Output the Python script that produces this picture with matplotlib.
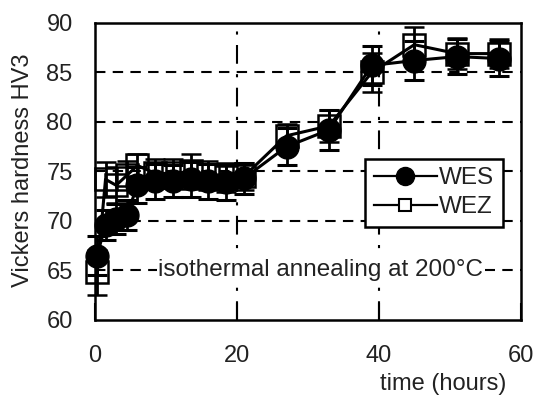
import matplotlib
matplotlib.use("Agg")
import matplotlib.pyplot as plt
from matplotlib.lines import Line2D

plt.rcParams["font.family"] = ["Liberation Sans", "DejaVu Sans"]

# data
time_h = [0.3, 1.5, 3, 4.5, 6, 8.5, 11, 13.5, 16, 18.5, 21, 27, 33, 39, 45, 51, 57]
wes = [66.5, 69.6, 70.2, 70.6, 73.6, 74.0, 74.0, 74.2, 74.0, 73.9, 74.3,
       77.5, 79.2, 85.7, 86.2, 86.6, 86.4]
wes_err = [2.0, 1.5, 1.5, 1.5, 1.8, 1.8, 1.6, 1.8, 1.8, 1.8, 1.6,
           1.9, 2.0, 2.0, 2.0, 1.8, 1.8]
wez = [64.8, 74.2, 73.6, 74.6, 75.6, 74.8, 74.8, 75.0, 74.6, 74.4, 74.5,
       78.6, 79.6, 85.0, 87.8, 86.9, 86.9]
wez_err = [2.3, 1.8, 1.8, 1.5, 1.2, 1.5, 1.5, 1.8, 1.5, 1.5, 1.4,
           1.2, 1.6, 2.0, 1.8, 1.6, 1.5]

xticks = [0, 20, 40, 60]
yticks = [60, 65, 70, 75, 80, 85, 90]
annotation = "isothermal annealing at 200°C"

fig = plt.figure(figsize=(5.33, 3.95), dpi=100)
ax = fig.add_axes([0.178, 0.19, 0.799, 0.752])

# grid: dashed horizontal, dash-dot vertical
for y in yticks[1:-1]:
    ax.axhline(y, color="black", lw=1.5, ls=(0, (5, 3.5)), zorder=1)
for x in xticks[1:-1]:
    ax.axvline(x, color="black", lw=1.5, ls=(0, (9, 5, 1.5, 5)), zorder=1)

ax.text(31.8, 65, annotation, fontsize=17.5, color="#222222", ha="center", va="center",
        bbox=dict(facecolor="white", edgecolor="none", pad=1), zorder=2)

ez = ax.errorbar(time_h, wez, yerr=wez_err, color="black", lw=2.2, marker="s", ms=16,
                 mfc="none", mec="black", mew=1.8, capsize=7, capthick=2.2,
                 elinewidth=2, zorder=3)
es = ax.errorbar(time_h, wes, yerr=wes_err, color="black", lw=2.2, marker="o", ms=16.5,
                 mfc="black", mec="black", capsize=7, capthick=2.2, elinewidth=2,
                 zorder=4)
# markers at t=0 hang over the left spine in the original
for cont in (ez, es):
    for art in cont.get_children():
        art.set_clip_on(False)

ax.set_xlim(0, 60)
ax.set_ylim(60, 90)
ax.set_xticks(xticks)
ax.set_yticks(yticks)
ax.tick_params(axis="x", direction="in", length=12, width=1.5, pad=18,
               labelsize=17, labelcolor="#222222")
ax.tick_params(axis="y", direction="in", length=0, pad=16,
               labelsize=17, labelcolor="#222222")
for s in ax.spines.values():
    s.set_linewidth(1.8)

ax.set_xlabel("time (hours)", fontsize=17, color="#222222")
ax.xaxis.set_label_coords(0.817, -0.18)
ax.set_ylabel("Vickers hardness HV3", fontsize=17, color="#222222")
ax.yaxis.label.set_va("center")
ax.yaxis.set_label_coords(-0.168, 0.505)

handles = [
    Line2D([], [], color="black", lw=1.6, marker="o", ms=13, mfc="black"),
    Line2D([], [], color="black", lw=1.6, marker="s", ms=9, mfc="white", mew=1.5),
]
leg = ax.legend(handles, ["WES", "WEZ"], loc="lower right",
                bbox_to_anchor=(0.958, 0.313), fontsize=17.5, frameon=True,
                fancybox=False, edgecolor="black", framealpha=1,
                handlelength=2.6, handletextpad=0.1, borderpad=0.35,
                labelspacing=0.3, borderaxespad=0)
leg.get_frame().set_linewidth(1.8)
for t in leg.get_texts():
    t.set_color("#222222")
leg.set_zorder(5)

fig.savefig("out.png", dpi=100)
